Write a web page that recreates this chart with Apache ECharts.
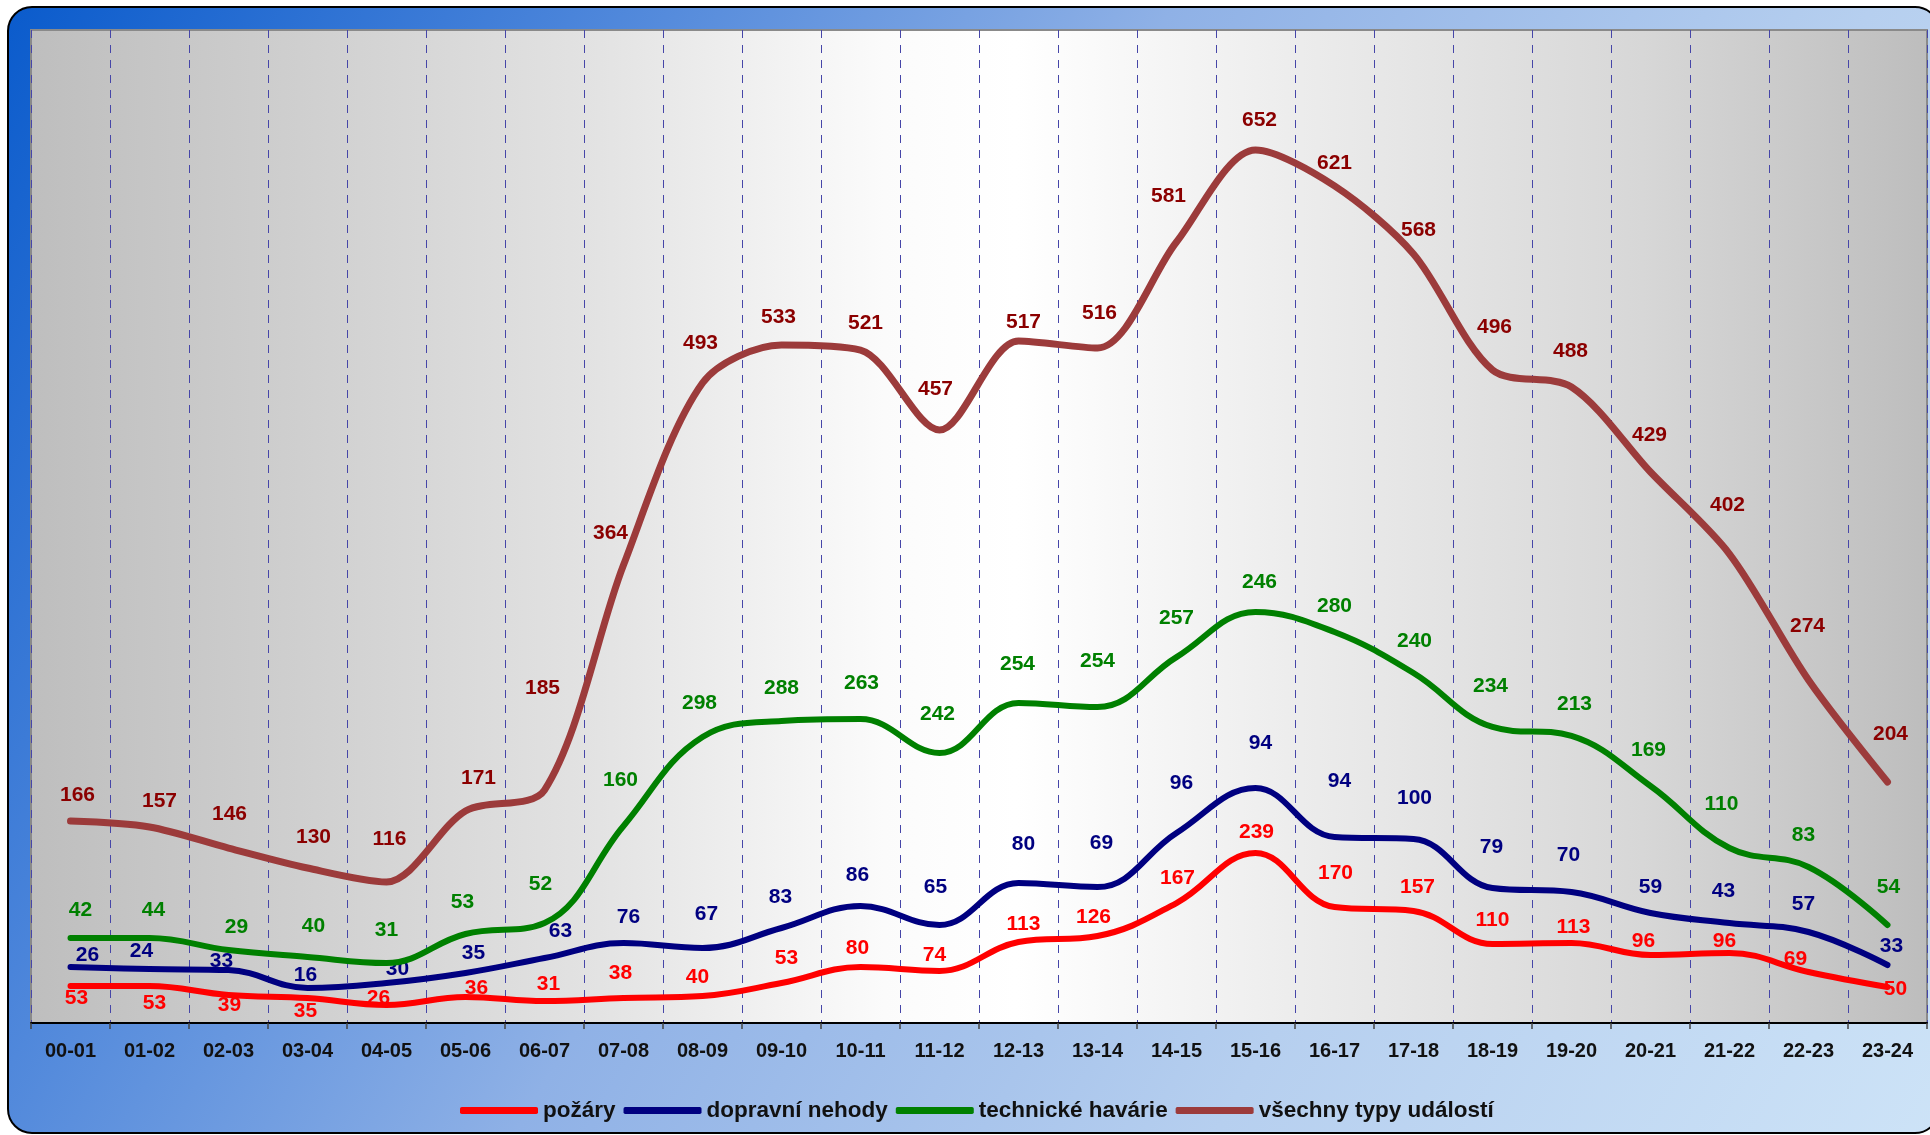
<!DOCTYPE html>
<html>
<head>
<meta charset="utf-8">
<script src="https://cdn.jsdelivr.net/npm/echarts@6/dist/echarts.min.js"></script>
<style>
html,body{margin:0;padding:0;background:#ffffff;}
#c{width:1930px;height:1135px;}
</style>
</head>
<body>
<div id="c"></div>
<script>
// ---------------- DATA ----------------
const categories = ['00-01','01-02','02-03','03-04','04-05','05-06','06-07','07-08','08-09','09-10','10-11','11-12',
                    '12-13','13-14','14-15','15-16','16-17','17-18','18-19','19-20','20-21','21-22','22-23','23-24'];

// line heights as drawn in the picture (hidden value axis 0..740)
const pozaryLine    = [27.6,27.6,20.9,18.6,13.4,19.4,16.4,18.6,20.1,29.8,41.7,38.8,60.4,64.8,89.4,126.7,86.4,83.5,58.9,59.6,50.7,52.2,38.0,26.8];
const dopravniLine  = [41.7,40.2,39.5,26.1,29.8,37.3,48.4,59.6,55.9,70.8,87.2,73.0,104.3,101.3,141.6,175.1,138.6,137.1,100.6,97.6,82.0,74.5,67.8,43.2];
const technickeLine = [63.3,63.3,54.4,49.2,44.7,66.3,74.5,146.8,213.1,225.1,226.5,201.2,238.5,235.5,272.7,306.3,291.4,260.8,220.6,213.9,176.6,130.4,116.3,73.0];
const vsechnyLine   = [150.5,146.1,130.4,115.5,105.1,158.0,173.6,341.3,476.9,505.3,501.5,441.9,508.2,503.0,582.0,650.6,623.8,573.1,486.6,474.0,410.6,349.5,255.6,179.6];

// value labels printed in the picture
const pozaryLabels    = [53,53,39,35,26,36,31,38,40,53,80,74,113,126,167,239,170,157,110,113,96,96,69,50];
const dopravniLabels  = [26,24,33,16,30,35,63,76,67,83,86,65,80,69,96,94,94,100,79,70,59,43,57,33];
const technickeLabels = [42,44,29,40,31,53,52,160,298,288,263,242,254,254,257,246,280,240,234,213,169,110,83,54];
const vsechnyLabels   = [166,157,146,130,116,171,185,364,493,533,521,457,517,516,581,652,621,568,496,488,429,402,274,204];

const seriesNames = ['požáry','dopravní nehody','technické havárie','všechny typy událostí'];

// ---------------- LAYOUT (label nudges relative to their point, px) ----------------
const pozaryOff = [[6,12],[5,17],[1,10],[-2,13],[-8,-7],[11,-9],[4,-17],[-3,-25],[-5,-19],[5,-25],[-3,-19],[-5,-16],
                   [5,-18],[-4,-19],[1,-25],[1,-21],[1,-34],[4,-24],[0,-24],[2,-16],[-7,-14],[-5,-12],[-13,-13],[8,2]];
const dopravniOff = [[17,-12],[-8,-18],[-7,-9],[-2,-13],[11,-14],[8,-20],[16,-27],[5,-26],[4,-34],[-1,-31],[-3,-31],[-4,-38],
                     [5,-39],[4,-44],[5,-50],[5,-45],[5,-56],[1,-41],[-1,-41],[-3,-37],[0,-26],[-6,-32],[-5,-28],[4,-19]];
const technickeOff = [[10,-28],[4,-28],[8,-23],[6,-31],[0,-33],[-3,-32],[-4,-39],[-3,-46],[-3,-34],[0,-33],[1,-36],[-2,-39],
                      [-1,-39],[0,-46],[0,-39],[4,-30],[0,-26],[1,-32],[-2,-41],[3,-32],[-2,-36],[-8,-44],[-5,-32],[1,-38]];
const vsechnyOff = [[7,-26],[10,-26],[1,-34],[6,-31],[3,-43],[13,-33],[-2,-102],[-13,-32],[-2,-40],[-3,-28],[5,-27],[-4,-41],
                    [5,-19],[2,-35],[-8,-46],[4,-30],[0,-23],[5,-24],[2,-43],[-1,-36],[-1,-37],[-2,-49],[-1,-54],[3,-48]];

const FONT = '"Liberation Sans", Arial, Helvetica, sans-serif';

function makeSeries(name, values, labels, offs, lineColor, labelColor, width, z, smooth) {
  return {
    name: name,
    type: 'line',
    smooth: smooth,
    symbol: 'circle',
    symbolSize: 1,
    showSymbol: true,
    color: lineColor,
    z: z,
    lineStyle: { color: lineColor, width: width, cap: 'round', join: 'round' },
    itemStyle: { color: lineColor },
    label: {
      show: true,
      position: 'inside',
      color: labelColor,
      fontFamily: FONT,
      fontWeight: 'bold',
      fontSize: 21,
      formatter: function (p) { return String(labels[p.dataIndex]); }
    },
    emphasis: { disabled: true },
    data: values.map(function (v, i) { return { value: v, label: { offset: offs[i] } }; })
  };
}

const chart = echarts.init(document.getElementById('c'), null, { renderer: 'canvas' });

const option = {
  animation: false,
  backgroundColor: 'transparent',
  graphic: [{
    type: 'rect',
    z: -10,
    silent: true,
    shape: { x: 8, y: 7, width: 1931, height: 1126, r: 24 },
    style: {
      fill: { type: 'linear', x: 0, y: 0, x2: 1, y2: 1, colorStops: [
        { offset: 0, color: '#0a5bcc' },
        { offset: 0.22, color: '#4a84da' },
        { offset: 0.45, color: '#8fb1e6' },
        { offset: 0.72, color: '#b6cfef' },
        { offset: 1, color: '#cde3f7' }
      ]},
      stroke: '#000000',
      lineWidth: 2
    }
  }],
  grid: {
    left: 31, top: 30, width: 1896, height: 993,
    show: true,
    backgroundColor: { type: 'linear', x: 0, y: 0, x2: 1, y2: 0, colorStops: [
      { offset: 0, color: '#bebebe' },
      { offset: 0.15, color: '#d0d0d0' },
      { offset: 0.3, color: '#e3e3e3' },
      { offset: 0.45, color: '#fbfbfb' },
      { offset: 0.52, color: '#ffffff' },
      { offset: 0.67, color: '#ececec' },
      { offset: 0.85, color: '#d7d7d7' },
      { offset: 1, color: '#bdbdbd' }
    ]},
    borderColor: '#8a8a8a',
    borderWidth: 2
  },
  legend: {
    left: 455,
    top: 1094,
    itemWidth: 78,
    itemHeight: 7,
    itemGap: 8,
    icon: 'roundRect',
    data: seriesNames,
    textStyle: { fontFamily: FONT, fontWeight: 'bold', fontSize: 22.5, color: '#111111' }
  },
  xAxis: {
    type: 'category',
    data: categories,
    boundaryGap: true,
    axisLine: { show: true, lineStyle: { color: '#000000', width: 2 } },
    axisTick: { show: true, length: 6, lineStyle: { color: '#444444', width: 1.5 } },
    axisLabel: { fontFamily: FONT, fontWeight: 'bold', fontSize: 20, color: '#111111', margin: 18, interval: 0 },
    splitLine: { show: true, interval: 0, lineStyle: { color: '#4646a8', width: 1, type: [8, 7] } }
  },
  yAxis: {
    type: 'value',
    min: 0,
    max: 740,
    show: false,
    splitLine: { show: false }
  },
  series: [
    makeSeries(seriesNames[0], pozaryLine, pozaryLabels, pozaryOff, '#ff0000', '#ff0000', 6, 4, 0.4),
    makeSeries(seriesNames[1], dopravniLine, dopravniLabels, dopravniOff, '#000080', '#000080', 6, 5, 0.4),
    makeSeries(seriesNames[2], technickeLine, technickeLabels, technickeOff, '#008000', '#008000', 6, 6, 0.4),
    makeSeries(seriesNames[3], vsechnyLine, vsechnyLabels, vsechnyOff, '#9c3b3b', '#8b0000', 7, 7, 0.3)
  ]
};

chart.setOption(option);
</script>
</body>
</html>
